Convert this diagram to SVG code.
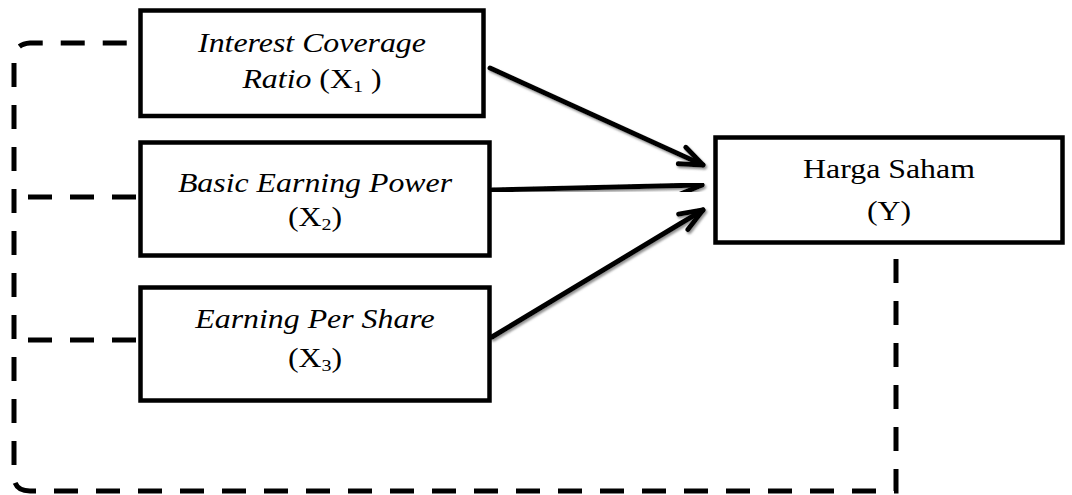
<svg xmlns="http://www.w3.org/2000/svg" width="1072" height="495" viewBox="0 0 1072 495">
<style>
.box{fill:#fff;stroke:#000;stroke-width:4.5}
.t{font-family:"Liberation Serif","Times New Roman",serif;font-size:27px;fill:#000;text-anchor:middle}
.i{font-style:italic}
.dash{fill:none;stroke:#000;stroke-width:5;stroke-dasharray:24 18}
.arr{fill:none;stroke:#000;stroke-width:5;stroke-linecap:round;marker-end:url(#ah);filter:url(#sh)}
</style>
<defs>
<marker id="ah" markerUnits="userSpaceOnUse" markerWidth="30" markerHeight="24" viewBox="0 0 30 24" refX="26" refY="12" orient="auto">
<path d="M3,3 L26,12 L3,21" fill="none" stroke="#000" stroke-width="5" stroke-linecap="round" stroke-linejoin="round"/>
</marker>
<filter id="sh" x="-10%" y="-30%" width="120%" height="160%">
<feDropShadow dx="1.5" dy="2" stdDeviation="0.8" flood-color="#777" flood-opacity="0.8"/>
</filter>
</defs>
<g id="connectors">
<path class="dash" d="M896,259 V491 H30 Q14,491 14,476 V60 Q14,44 30,43 H140"/>
<path class="dash" d="M28,197 H140"/>
<path class="dash" d="M28,340 H140"/>
<path class="arr" d="M490,68 L703,165"/>
<path class="arr" d="M492,190 L702,185"/>
<path class="arr" d="M492,337 L703,210"/>
</g>
<g id="x1">
<rect class="box" x="140.5" y="10.5" width="343" height="105.5"/>
<text class="t i" transform="translate(312,52) scale(1.18,1)">Interest Coverage</text>
<text class="t" transform="translate(312,88) scale(1.18,1)"><tspan class="i">Ratio</tspan> (X<tspan font-size="17" dy="4">1</tspan><tspan dy="-4"> )</tspan></text>
</g>
<g id="x2">
<rect class="box" x="140.5" y="142.5" width="349" height="113"/>
<text class="t i" transform="translate(315,192) scale(1.18,1)">Basic Earning Power</text>
<text class="t" transform="translate(315,226) scale(1.18,1)">(X<tspan font-size="17" dy="4">2</tspan><tspan dy="-4">)</tspan></text>
</g>
<g id="x3">
<rect class="box" x="140.5" y="287.5" width="349" height="113"/>
<text class="t i" transform="translate(315,328) scale(1.18,1)">Earning Per Share</text>
<text class="t" transform="translate(315,367) scale(1.18,1)">(X<tspan font-size="17" dy="4">3</tspan><tspan dy="-4">)</tspan></text>
</g>
<g id="y">
<rect class="box" x="715.5" y="137.5" width="347" height="105"/>
<text class="t" transform="translate(889,178) scale(1.18,1)">Harga Saham</text>
<text class="t" transform="translate(889,220) scale(1.18,1)">(Y)</text>
</g>
</svg>
